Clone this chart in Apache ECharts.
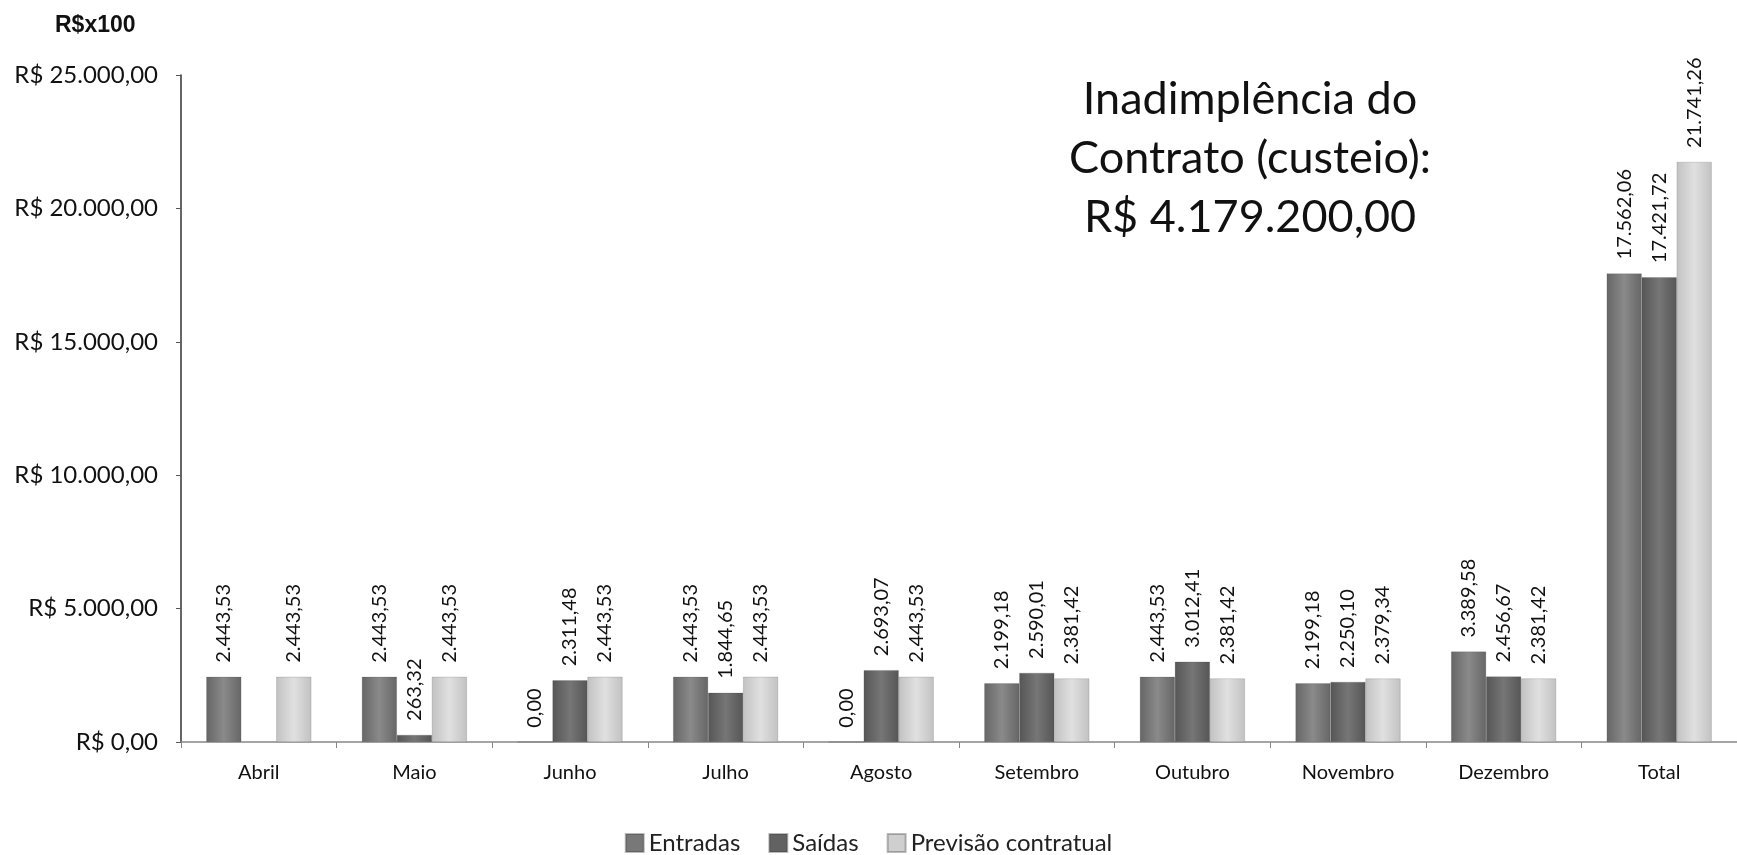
<!DOCTYPE html>
<html>
<head>
<meta charset="utf-8">
<script src="https://cdn.jsdelivr.net/npm/echarts@6/dist/echarts.min.js"></script>
<style>html,body{margin:0;padding:0;background:#fff;}#c{width:1737px;height:855px;}</style>
</head>
<body>
<div id="c"></div>
<script>
const categories = ['Abril','Maio','Junho','Julho','Agosto','Setembro','Outubro','Novembro','Dezembro','Total'];
const entradas = [2443.53, 2443.53, 0.00, 2443.53, 0.00, 2199.18, 2443.53, 2199.18, 3389.58, 17562.06];
const saidas   = [null, 263.32, 2311.48, 1844.65, 2693.07, 2590.01, 3012.41, 2250.10, 2456.67, 17421.72];
const previsao = [2443.53, 2443.53, 2443.53, 2443.53, 2443.53, 2381.42, 2381.42, 2379.34, 2381.42, 21741.26];
const seriesNames = ['Entradas','Saídas','Previsão contratual'];
const yTicks = {min: 0, max: 25000, interval: 5000};
const unitLabel = 'R$x100';
const note = 'Inadimplência do\nContrato (custeio):\nR$ 4.179.200,00';

function fmtBR(v){
  const neg = v < 0; v = Math.abs(v);
  const s = v.toFixed(2);
  let [i, d] = s.split('.');
  i = i.replace(/\B(?=(\d{3})+(?!\d))/g, '.');
  return (neg ? '-' : '') + i + ',' + d;
}
function grad(edge, mid){
  return new echarts.graphic.LinearGradient(0,0,1,0,[
    {offset:0,color:edge},{offset:0.5,color:mid},{offset:1,color:edge}
  ]);
}
const FONT = 'Lato, "Open Sans", sans-serif';
const chart = echarts.init(document.getElementById('c'), null, {renderer:'canvas'});
const labelCfg = {
  show: true, position: 'top', rotate: 90, align: 'left', verticalAlign: 'middle',
  distance: 14, fontFamily: FONT, fontSize: 20, color: '#111',
  formatter: p => fmtBR(p.value)
};
const colors = [grad('#666666','#8a8a8a'), grad('#565656','#767676'), grad('#c2c2c2','#e0e0e0')];
const legendColors = ['#787878','#626262','#cfcfcf'];
const dataSets = [entradas, saidas, previsao];
chart.setOption({
  backgroundColor: '#fff',
  animation: false,
  title: [
    {text: unitLabel, left: 50, top: 9, textStyle:{fontFamily:'"Liberation Sans", Arial, sans-serif', fontWeight:'bold', fontSize:23, color:'#111'}},
    {text: note, left: 1245, top: 65, textAlign: 'center',
     textStyle:{fontFamily: FONT, fontWeight:'normal', fontSize:45, lineHeight:59, color:'#111', align:'center'}}
  ],
  legend: {
    top: 826, left: 'center', itemWidth: 18, itemHeight: 18, itemGap: 28, icon: 'rect',
    textStyle: {fontFamily: FONT, fontSize: 24, color: '#222'},
    data: seriesNames.map((n,i)=>({name:n, itemStyle:{color:legendColors[i]}}))
  },
  grid: {left: 181, right: -9, top: 75, bottom: 113, containLabel: false},
  xAxis: {
    type: 'category', data: categories,
    axisLine: {lineStyle: {color: '#888', width: 1.5}},
    axisTick: {show: true, length: 6, lineStyle: {color: '#888'}},
    axisLabel: {fontFamily: FONT, fontSize: 20, color: '#111', margin: 21}
  },
  yAxis: {
    type: 'value', min: yTicks.min, max: yTicks.max, interval: yTicks.interval,
    splitLine: {show: false},
    axisLine: {show: true, lineStyle: {color: '#333', width: 1.5}},
    axisTick: {show: true, length: 5, lineStyle: {color: '#555'}},
    axisLabel: {fontFamily: FONT, fontSize: 24, color: '#111', margin: 23,
      formatter: v => 'R$ ' + fmtBR(v)}
  },
  series: dataSets.map((d,i)=>({
    name: seriesNames[i], type: 'bar', data: d, barWidth: 35, barGap: '0%',
    itemStyle: {color: colors[i], borderColor: 'rgba(60,60,60,0.35)', borderWidth: 0.5},
    label: labelCfg
  }))
});
</script>
</body>
</html>
